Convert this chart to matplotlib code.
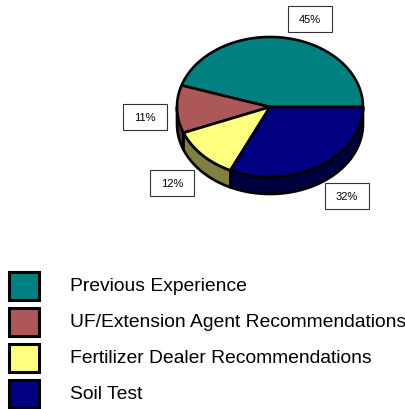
import numpy as np
import matplotlib.pyplot as plt
from matplotlib.patches import Polygon, Rectangle

plt.rcParams['font.family'] = ['Liberation Sans', 'DejaVu Sans']

# data
labels = ["Previous Experience", "UF/Extension Agent Recommendations",
          "Fertilizer Dealer Recommendations", "Soil Test"]
shares = [45, 11, 12, 32]
top_colors = ["#008080", "#AD5858", "#FFFF80", "#000080"]
side_colors = ["#004040", "#5A2C2C", "#80803F", "#000040"]
label_pos = [(310, 20), (145, 118), (172, 184), (347, 197)]

# pie geometry (pixels, y down)
cx, cy, rx, ry, depth = 270, 108, 93, 70, 17


def pt(t, dy=0):
    t = np.radians(t)
    return cx + rx * np.cos(t), cy - ry * np.sin(t) + dy


def arc(a, b, dy=0, n=80):
    ts = np.linspace(a, b, n)
    return [pt(t, dy) for t in ts]


fig = plt.figure(figsize=(4.06, 4.10), dpi=100)
ax = fig.add_axes([0, 0, 1, 1])
ax.set_xlim(0, 406)
ax.set_ylim(410, 0)
ax.axis('off')

bounds = np.concatenate([[0], np.cumsum(shares)]) / sum(shares) * 360

# side walls (front half only)
for i in range(len(shares)):
    a, b = max(bounds[i], 180), min(bounds[i + 1], 360)
    if b <= a:
        continue
    poly = arc(a, b) + arc(a, b, depth)[::-1]
    ax.add_patch(Polygon(poly, closed=True, fc=side_colors[i], ec='black', lw=1.9,
                         joinstyle='round'))

# top faces
for i in range(len(shares)):
    poly = [(cx, cy)] + arc(bounds[i], bounds[i + 1])
    ax.add_patch(Polygon(poly, closed=True, fc=top_colors[i], ec='black', lw=1.9,
                         joinstyle='round'))

# percentage boxes
for (x, y), v in zip(label_pos, shares):
    ax.add_patch(Rectangle((x - 22, y - 13), 44, 26, fc='white', ec='#333333', lw=0.8))
    ax.text(x, y, f"{v}%", ha='center', va='center', fontsize=8)

# legend
for i, lab in enumerate(labels):
    y = 287 + i * 36
    ax.add_patch(Rectangle((9, y - 14), 30, 28, fc=top_colors[i], ec='black', lw=2.2))
    ax.text(70, y, lab, ha='left', va='center', fontsize=13.9)

fig.savefig("out.png", dpi=100)
